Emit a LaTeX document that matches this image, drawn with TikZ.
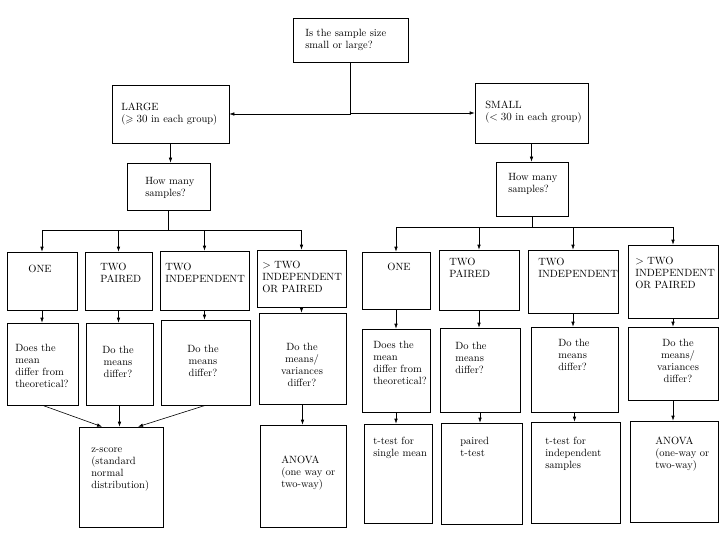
\documentclass[tikz,border=0pt]{standalone}
\usepackage{amssymb}
\usetikzlibrary{arrows.meta, fit}

\begin{document}
\begin{tikzpicture}[x=1pt, y=-1pt, line width=0.6pt, >={Latex[length=5pt,width=3.5pt]},
  box/.style={draw, inner sep=0pt},
  txt/.style={anchor=north west, align=left, inner sep=0pt, font=\fontsize{10.5}{12}\selectfont},
  ctxt/.style={txt, anchor=north, align=center}]
\useasboundingbox (0,0) rectangle (720,540);
% first question and sample size
\node[box, fit={(293,18) (408,62)}] (size) {};
\node[box, fit={(112,85) (229,143)}] (large) {};
\node[box, fit={(475,83) (588,143)}] (small) {};
\node[box, fit={(127,163) (210,210)}] (howL) {};
\node[box, fit={(496,162) (568,216)}] (howR) {};
\node[txt] (size-t) at (305,29) {Is the sample size\\small or large?};
\node[txt] (large-t) at (121,103) {LARGE\\($\geqslant 30$ in each group)};
\node[txt] (small-t) at (485,101) {SMALL\\($<30$ in each group)};
\node[txt] (howL-t) at (145,177) {How many\\samples?};
\node[txt] (howR-t) at (508,173) {How many\\samples?};
% number of samples
\node[box, fit={(7,252) (77,310)}] (oneL) {};
\node[box, fit={(85,252) (152,310)}] (pairL) {};
\node[box, fit={(160,251) (249,310)}] (indL) {};
\node[box, fit={(257,250) (346,307)}] (manyL) {};
\node[box, fit={(362,252) (430,309)}] (oneR) {};
\node[box, fit={(439,250) (519,310)}] (pairR) {};
\node[box, fit={(528,250) (618,313)}] (indR) {};
\node[box, fit={(628,245) (718,318)}] (manyR) {};
\node[ctxt] (oneL-t) at (40,265) {ONE};
\node[txt] (pairL-t) at (100,263) {TWO\\PAIRED};
\node[txt] (indL-t) at (165,263) {TWO\\INDEPENDENT};
\node[txt] (manyL-t) at (262,261) {$>$ TWO\\INDEPENDENT\\OR PAIRED};
\node[ctxt] (oneR-t) at (399,263) {ONE};
\node[txt] (pairR-t) at (449,258) {TWO\\PAIRED};
\node[txt] (indR-t) at (538,258) {TWO\\INDEPENDENT};
\node[txt] (manyR-t) at (635,257) {$>$ TWO\\INDEPENDENT\\OR PAIRED};
% questions
\node[box, fit={(7,323) (78,405)}] (qoneL) {};
\node[box, fit={(86,323) (153,405)}] (qpairL) {};
\node[box, fit={(161,320) (250,405)}] (qindL) {};
\node[box, fit={(259,313) (346,404)}] (qmanyL) {};
\node[box, fit={(362,329) (430,412)}] (qoneR) {};
\node[box, fit={(440,328) (520,412)}] (qpairR) {};
\node[box, fit={(531,327) (618,412)}] (qindR) {};
\node[box, fit={(628,327) (718,400)}] (qmanyR) {};
\node[txt] (qoneL-t) at (15,344) {Does the\\mean\\differ from\\theoretical?};
\node[ctxt] (qpairL-t) at (118,346) {Do the\\means\\differ?};
\node[ctxt] (qindL-t) at (203,345) {Do the\\means\\differ?};
\node[ctxt] (qmanyL-t) at (302,343) {Do the\\means/\\variances\\differ?};
\node[txt] (qoneR-t) at (373,341) {Does the\\mean\\differ from\\theoretical?};
\node[txt] (qpairR-t) at (455,342) {Do the\\means\\differ?};
\node[txt] (qindR-t) at (558,339) {Do the\\means\\differ?};
\node[ctxt] (qmanyR-t) at (678,339) {Do the\\means/\\variances\\differ?};
% tests
\node[box, fit={(79,427) (163,527)}] (zscore) {};
\node[box, fit={(260,425) (346,527)}] (anovaL) {};
\node[box, fit={(364,424) (432,523)}] (tone) {};
\node[box, fit={(441,423) (522,524)}] (tpair) {};
\node[box, fit={(531,422) (620,523)}] (tind) {};
\node[box, fit={(630,421) (718,522)}] (anovaR) {};
\node[txt] (zscore-t) at (91,447) {z-score\\(standard\\normal\\distribution)};
\node[txt] (anovaL-t) at (281,456) {ANOVA\\(one way or\\two-way)};
\node[txt] (tone-t) at (373,437) {t-test for\\single mean};
\node[txt] (tpair-t) at (460,437) {paired\\t-test};
\node[txt] (tind-t) at (545,437) {t-test for\\independent\\samples};
\node[txt] (anovaR-t) at (655,437) {ANOVA\\(one-way or\\two-way)};
% connectors
\draw[->] (size.south) |- (large.east);
\draw[->] (size.south) |- (small.west);
\draw[->] (large.south) -- (large.south |- howL.north);
\draw[->] (small.south) -- (small.south |- howR.north);
\draw (howL.south) -- ++(0,20) coordinate (busL);
\draw (howR.south) -- ++(0,11) coordinate (busR);
\foreach \b in {oneL, pairL, indL, manyL} \draw[->] (busL) -| (\b.north);
\foreach \b in {oneR, pairR, indR, manyR} \draw[->] (busR) -| (\b.north);
\foreach \a/\b in {oneL/qoneL, pairL/qpairL, indL/qindL, manyL/qmanyL, oneR/qoneR, pairR/qpairR, indR/qindR, manyR/qmanyR}
  \draw[->] (\a.south) -- (\a.south |- \b.north);
\draw[->] (qoneL.south) -- ([xshift=-19pt]zscore.north);
\draw[->] (qpairL.south) -- (qpairL.south |- zscore.north);
\draw[->] (qindL.south) -- ([xshift=17pt]zscore.north);
\foreach \a/\b in {qmanyL/anovaL, qoneR/tone, qpairR/tpair, qindR/tind, qmanyR/anovaR}
  \draw[->] (\a.south) -- (\a.south |- \b.north);
\end{tikzpicture}
\end{document}
